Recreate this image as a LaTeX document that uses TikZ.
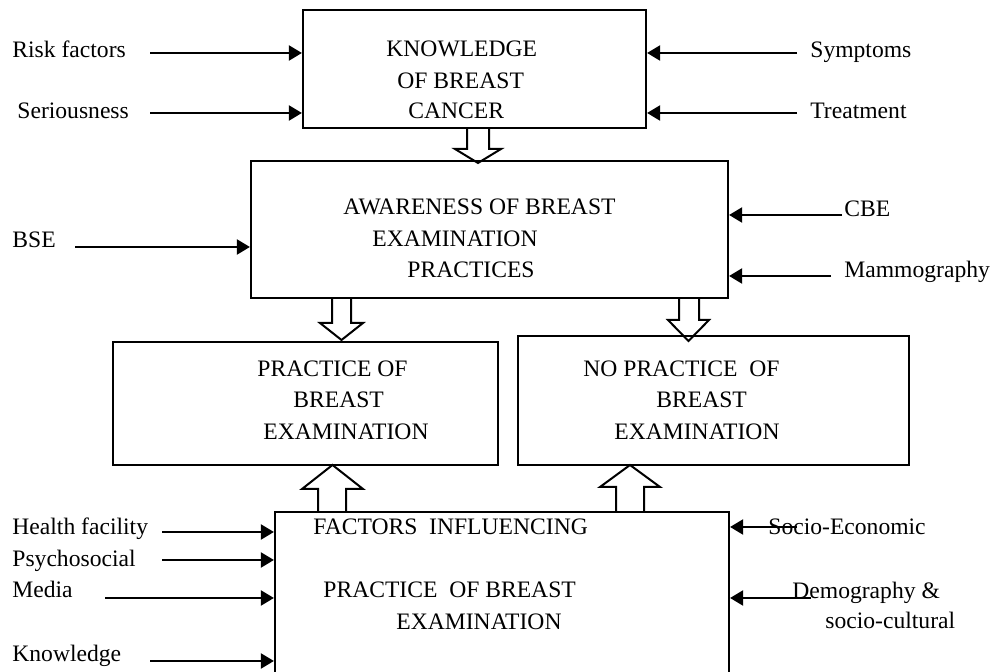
\documentclass[tikz,border=0pt]{standalone}
\usepackage{fontspec}
\setmainfont{Liberation Serif}
\usetikzlibrary{arrows.meta}
\begin{document}
\begin{tikzpicture}[x=0.5pt,y=-0.5pt,
  box/.style={draw, line width=1.1pt, rectangle, inner sep=0pt},
  lbl/.style={anchor=base west, inner sep=0pt, font=\fontsize{11.8pt}{14pt}\selectfont},
  arr/.style={line width=1.1pt, -{Triangle[length=6.5pt,width=7.5pt]}},
  hollow/.style={draw, line width=1.0pt, line join=miter}]
\useasboundingbox (0,0) rectangle (998,672);
\fill[white] (0,0) rectangle (998,672);
\clip (0,0) rectangle (998,672);

% boxes
\node[box, minimum width=343*0.5pt, minimum height=118*0.5pt] (know) at (474.5,69) {};
\node[box, minimum width=477*0.5pt, minimum height=137*0.5pt] (aware) at (489.5,229.5) {};
\node[box, minimum width=385*0.5pt, minimum height=123*0.5pt] (prac) at (305.5,403.5) {};
\node[box, minimum width=391*0.5pt, minimum height=129*0.5pt] (noprac) at (713.5,400.5) {};
\node[box, minimum width=454*0.5pt, minimum height=178*0.5pt] (fact) at (502,601) {};

% box texts
\node[lbl] (k1) at (386,57) {KNOWLEDGE};
\node[lbl] (k2) at (397,89) {OF BREAST};
\node[lbl] (k3) at (408,119) {CANCER};
\node[lbl] (a1) at (343,215) {AWARENESS OF BREAST};
\node[lbl] (a2) at (372,247) {EXAMINATION};
\node[lbl] (a3) at (407,278) {PRACTICES};
\node[lbl] (p1) at (257,377) {PRACTICE OF};
\node[lbl] (p2) at (293,408) {BREAST};
\node[lbl] (p3) at (263,440) {EXAMINATION};
\node[lbl] (n1) at (583,377) {NO PRACTICE\ \ OF};
\node[lbl] (n2) at (656,408) {BREAST};
\node[lbl] (n3) at (614,440) {EXAMINATION};
\node[lbl] (f1) at (313,535) {FACTORS\ \ INFLUENCING};
\node[lbl] (f2) at (323,598) {PRACTICE\ \ OF BREAST};
\node[lbl] (f3) at (396,630) {EXAMINATION};

% side labels
\node[lbl] (rf) at (12,58) {Risk factors};
\node[lbl] (se) at (17,119) {Seriousness};
\node[lbl] (sy) at (810,58) {Symptoms};
\node[lbl] (tr) at (810,119) {Treatment};
\node[lbl] (bse) at (12,248) {BSE};
\node[lbl] (cbe) at (844,217) {CBE};
\node[lbl] (mam) at (844,278) {Mammography};
\node[lbl] (hf) at (12,535) {Health facility};
\node[lbl] (ps) at (12,567) {Psychosocial};
\node[lbl] (me) at (12,598) {Media};
\node[lbl] (kn) at (12,662) {Knowledge};
\node[lbl] (soc) at (768,535) {Socio-Economic};
\node[lbl] (dem) at (792,599) {Demography \&};
\node[lbl] (dem2) at (825,629) {socio-cultural};

% arrow start points
\coordinate (rfs) at (150,53);
\coordinate (ses) at (150,113);
\coordinate (sys) at (797,53);
\coordinate (trs) at (797,113);
\coordinate (bses) at (75,247);
\coordinate (cbes) at (842,215);
\coordinate (mams) at (831,276);
\coordinate (hfs) at (162,532);
\coordinate (pss) at (162,560);
\coordinate (mes) at (105,598);
\coordinate (kns) at (150,661);
\coordinate (socs) at (797,527);
\coordinate (dems) at (811,598);

\draw[arr] (rfs) -- (rfs -| know.west);
\draw[arr] (ses) -- (ses -| know.west);
\draw[arr] (sys) -- (sys -| know.east);
\draw[arr] (trs) -- (trs -| know.east);
\draw[arr] (bses) -- (bses -| aware.west);
\draw[arr] (cbes) -- (cbes -| aware.east);
\draw[arr] (mams) -- (mams -| aware.east);
\draw[arr] (hfs) -- (hfs -| fact.west);
\draw[arr] (pss) -- (pss -| fact.west);
\draw[arr] (mes) -- (mes -| fact.west);
\draw[arr] (kns) -- (kns -| fact.west);
\draw[arr] (socs) -- (socs -| fact.east);
\draw[arr] (dems) -- (dems -| fact.east);

% hollow block arrows
\draw[hollow] (467,128) -- (467,149) -- (455,149) -- (478,163) -- (501,149) -- (489,149) -- (489,128);
\draw[hollow] (332,298) -- (332,323) -- (320,323) -- (341.5,340) -- (363,323) -- (351,323) -- (351,298);
\draw[hollow] (679,298) -- (679,320) -- (668,320) -- (688.5,341) -- (709,320) -- (699,320) -- (699,298);
\draw[hollow] (318,512) -- (318,489) -- (302,489) -- (332.5,465) -- (363,489) -- (346,489) -- (346,512);
\draw[hollow] (616,512) -- (616,487) -- (600,487) -- (630,465) -- (660,487) -- (644,487) -- (644,512);
\end{tikzpicture}
\end{document}
